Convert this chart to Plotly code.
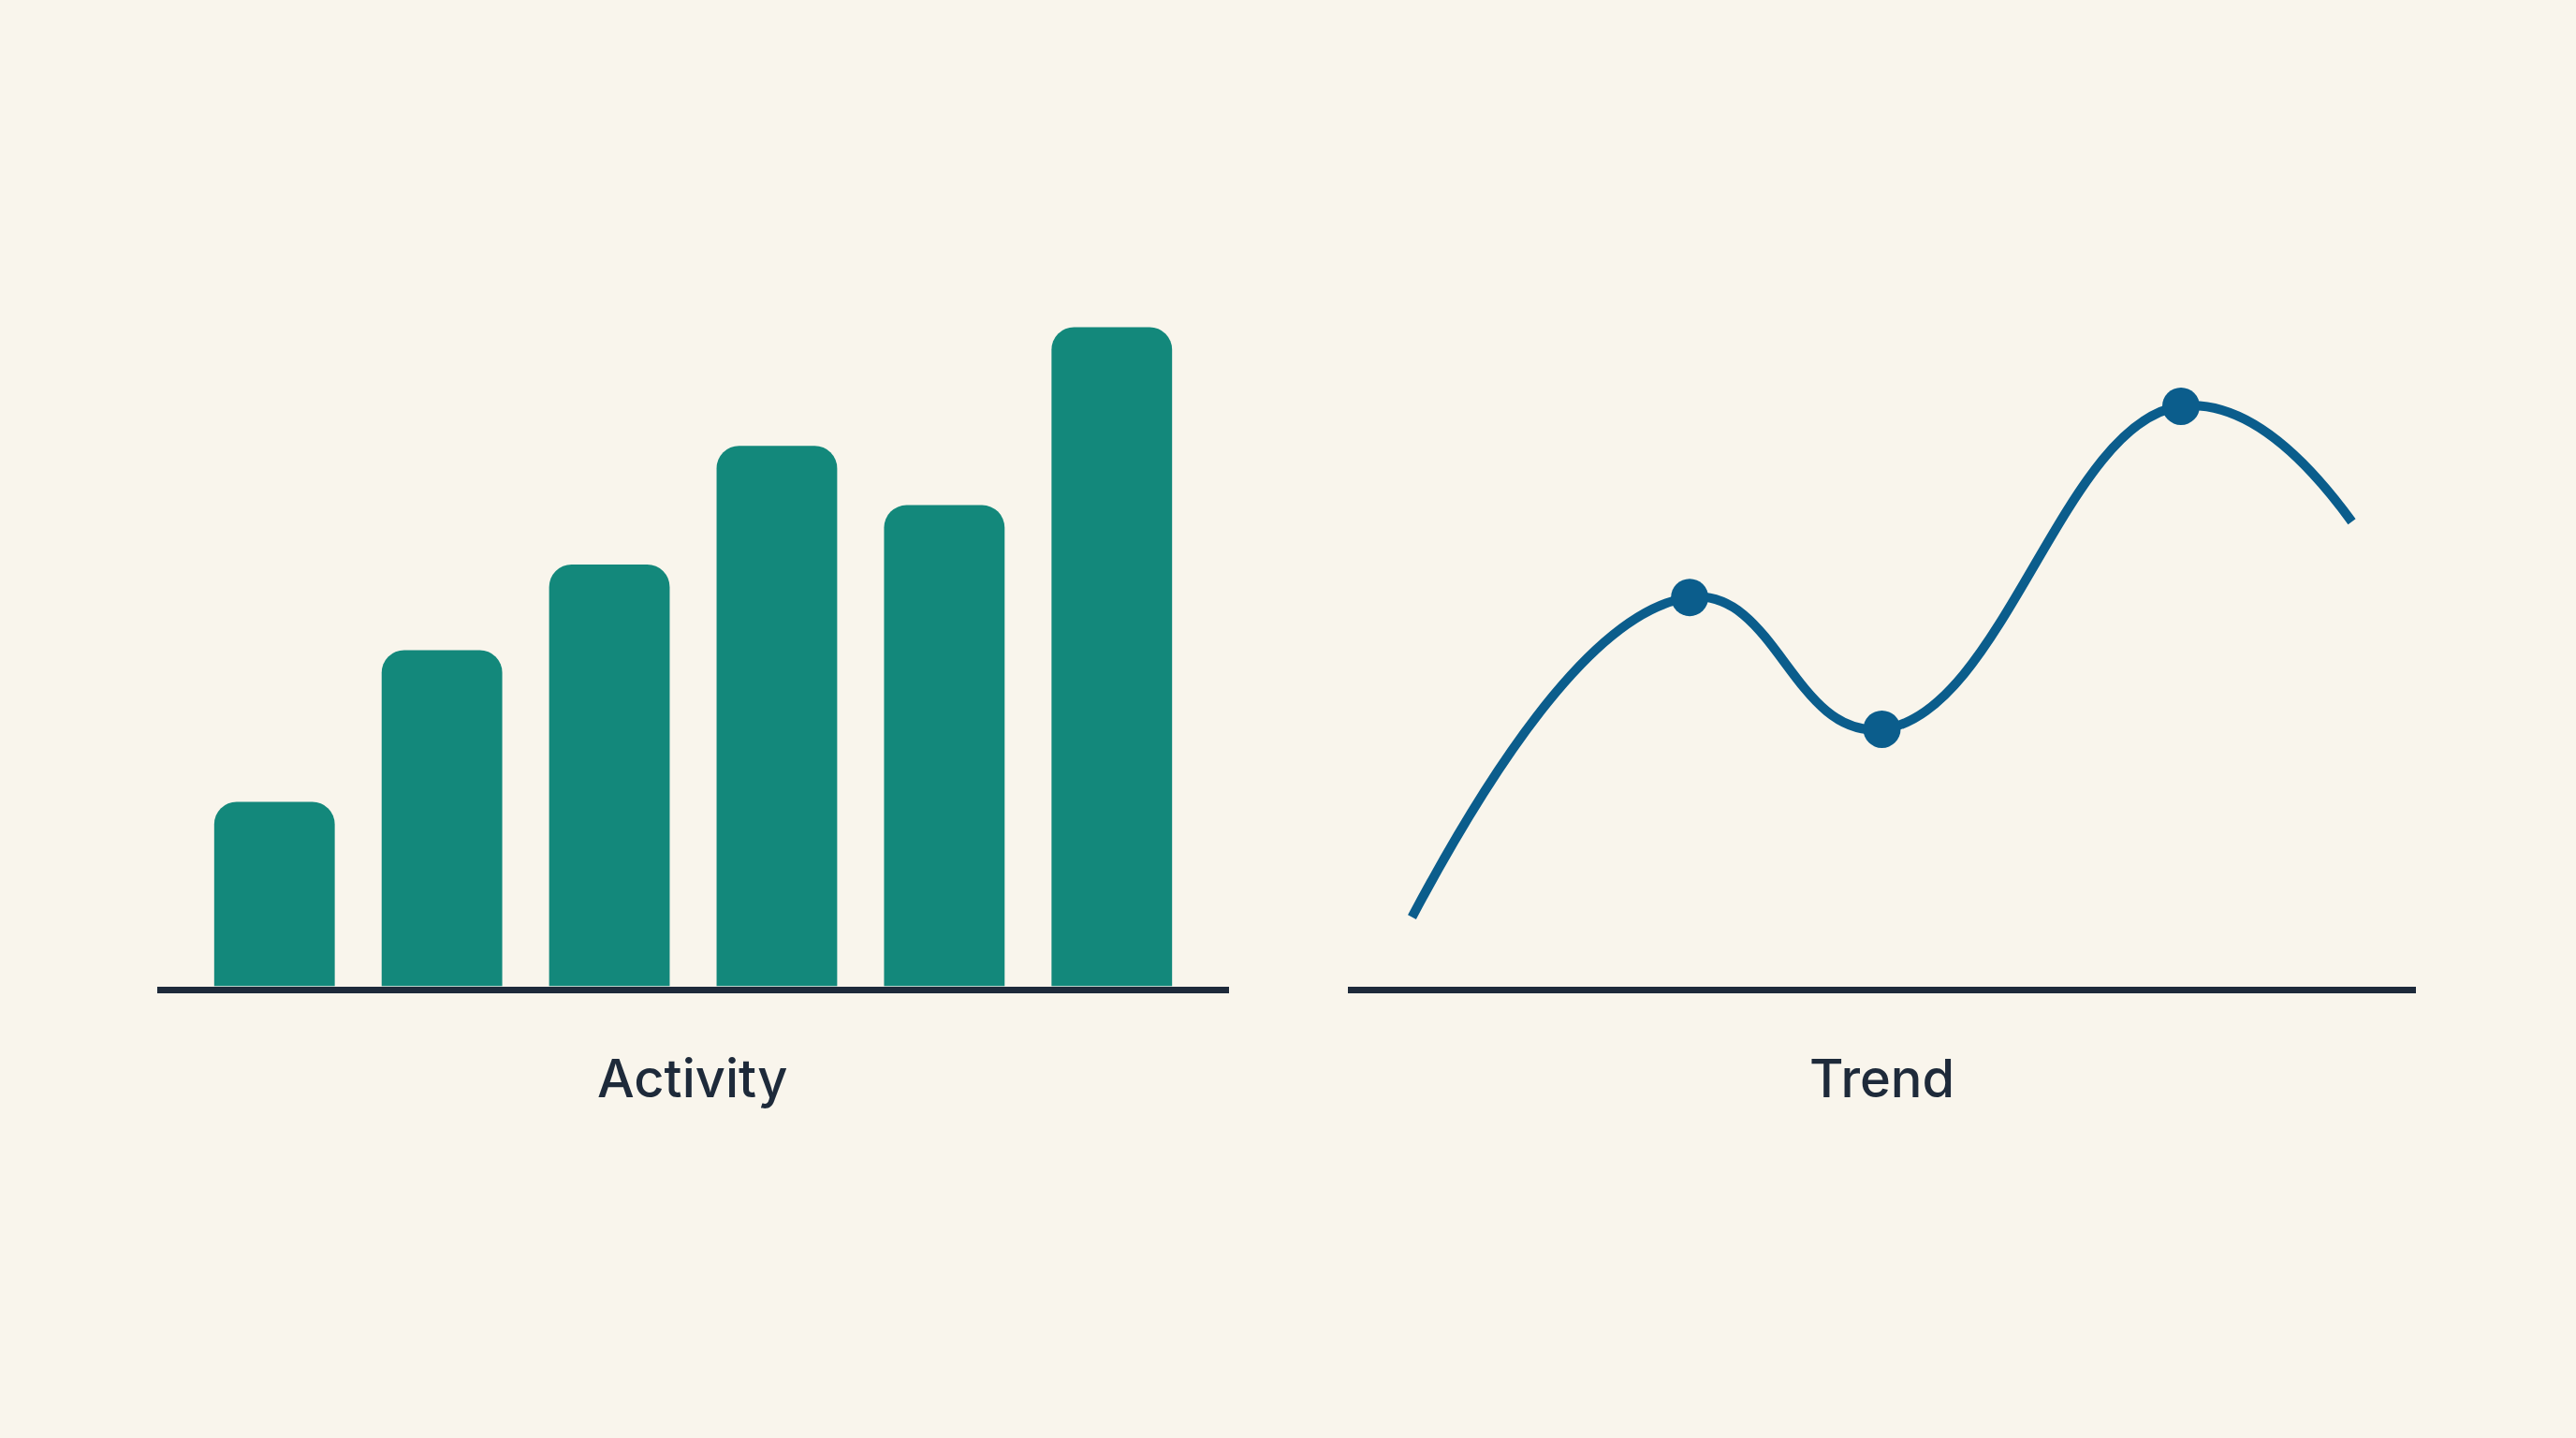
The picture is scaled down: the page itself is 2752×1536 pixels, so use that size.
import plotly.graph_objects as go

# ---- data ----
activity_x = [0, 1, 2, 3, 4, 5]
activity_values = [28, 51, 64, 82, 73, 100]

trend_x = [6, 32, 50, 78, 94]
trend_values = [10.5, 59, 39, 88, 70.5]
marker_x = [32, 50, 78]
marker_values = [59, 39, 88]

labels = ["Activity", "Trend"]

BG = "#f9f5ec"
TEAL = "#13887b"
BLUE = "#0b5d8c"
INK = "#1e2a3a"

W, H = 2752, 1536
ybot = (H - 1053.5) / H
ytop = (H - 208.7) / H

fig = go.Figure()
fig.add_trace(go.Bar(x=activity_x, y=activity_values, marker=dict(color=TEAL, line=dict(width=0)),
                     width=0.72, xaxis="x", yaxis="y", hoverinfo="skip"))
fig.add_trace(go.Scatter(x=trend_x, y=trend_values, mode="lines",
                         line=dict(color=BLUE, width=10, shape="spline", smoothing=1.3),
                         xaxis="x2", yaxis="y2", hoverinfo="skip"))
fig.add_trace(go.Scatter(x=marker_x, y=marker_values, mode="markers",
                         marker=dict(color=BLUE, size=40, line=dict(width=0)),
                         xaxis="x2", yaxis="y2", hoverinfo="skip"))

axis_common = dict(showgrid=False, zeroline=False, showticklabels=False, ticks="", fixedrange=True)

fig.update_layout(
    width=W, height=H,
    margin=dict(l=0, r=0, t=0, b=0),
    paper_bgcolor=BG, plot_bgcolor=BG,
    showlegend=False,
    barcornerradius=24,
    xaxis=dict(domain=[168 / W, 1313 / W], range=[-0.7, 5.7], showline=True, linecolor=INK,
               linewidth=7, anchor="y", **axis_common),
    yaxis=dict(domain=[ybot, ytop], range=[0, 120], showline=False, anchor="x", **axis_common),
    xaxis2=dict(domain=[1440 / W, 2581 / W], range=[0, 100], showline=True, linecolor=INK,
                linewidth=7, anchor="y2", **axis_common),
    yaxis2=dict(domain=[ybot, ytop], range=[0, 120], showline=False, anchor="x2", **axis_common),
    annotations=[
        dict(text=labels[0], x=740 / W, y=(H - 1152) / H, xref="paper", yref="paper",
             xanchor="center", yanchor="middle", showarrow=False,
             font=dict(family="Inter", size=56, weight=500, color=INK)),
        dict(text=labels[1], x=2010 / W, y=(H - 1152) / H, xref="paper", yref="paper",
             xanchor="center", yanchor="middle", showarrow=False,
             font=dict(family="Inter", size=56, weight=500, color=INK)),
    ],
)

fig.write_html("out.html", config={"displayModeBar": False})
